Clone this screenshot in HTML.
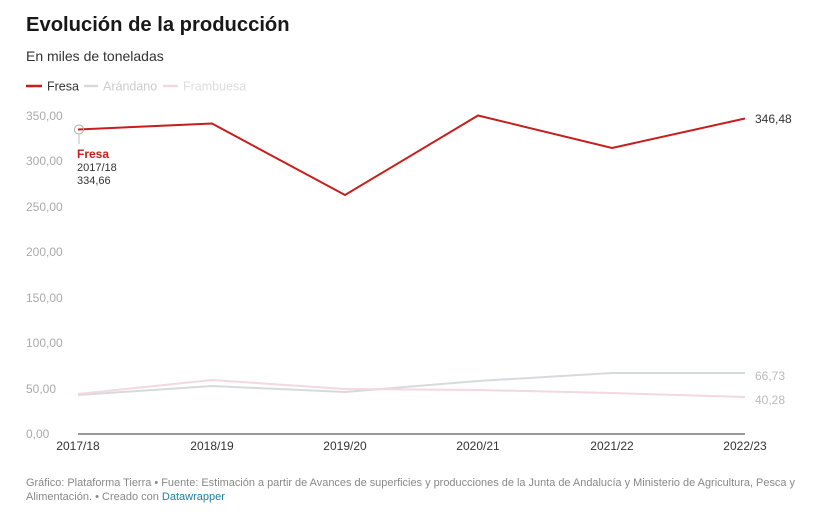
<!DOCTYPE html>
<html><head><meta charset="utf-8"><style>
body{margin:0;width:832px;height:519px;background:#fff;font-family:"Liberation Sans",Arial,sans-serif;overflow:hidden}
</style></head><body>
<svg width="832" height="519" xmlns="http://www.w3.org/2000/svg" font-family="Liberation Sans, Arial, sans-serif">
<text x="26" y="31" font-size="20.2" font-weight="bold" fill="#181818">Evolución de la producción</text>
<text x="26" y="61" font-size="14" fill="#333">En miles de toneladas</text>
<line x1="26" y1="86" x2="42" y2="86" stroke="#c71e1d" stroke-width="2.5"/>
<text x="47" y="90.5" font-size="12.5" fill="#333">Fresa</text>
<line x1="84" y1="86" x2="98" y2="86" stroke="#d7dadd" stroke-width="2.5"/>
<text x="103" y="90.5" font-size="12.5" fill="#ccc">Arándano</text>
<line x1="163" y1="86" x2="178" y2="86" stroke="#f4d8e0" stroke-width="2.5"/>
<text x="183" y="90.5" font-size="12.5" fill="#ddd">Frambuesa</text>
<g font-size="12" fill="#aaa">
<text x="26" y="120">350,00</text><text x="26" y="165">300,00</text><text x="26" y="211">250,00</text>
<text x="26" y="256">200,00</text><text x="26" y="302">150,00</text><text x="26" y="347">100,00</text>
<text x="26" y="393">50,00</text><text x="26" y="438">0,00</text>
</g>
<line x1="78" y1="434" x2="745" y2="434" stroke="#333" stroke-width="1"/>
<g font-size="12" fill="#333" text-anchor="middle">
<text x="78" y="450">2017/18</text><text x="212" y="450">2018/19</text><text x="345" y="450">2019/20</text>
<text x="478" y="450">2020/21</text><text x="612" y="450">2021/22</text><text x="745" y="450">2022/23</text>
</g>
<polyline fill="none" stroke="#d7dadd" stroke-width="2" points="78,395 212,386 345,392 478,381 612,373 745,373"/>
<polyline fill="none" stroke="#f4d8e0" stroke-width="2" points="78,394 212,380 345,389 478,390 612,393 745,397"/>
<polyline fill="none" stroke="#c71e1d" stroke-width="2" points="78,129.5 212,123.5 345,195 478,115.5 612,148 745,118.5"/>
<circle cx="79" cy="129.5" r="4.5" fill="none" stroke="#aaa" stroke-width="1"/>
<line x1="79" y1="134" x2="79" y2="144" stroke="#bbb"/>
<text x="77" y="158" font-size="12" font-weight="bold" fill="#c71e1d">Fresa</text>
<text x="77" y="171" font-size="11" fill="#333">2017/18</text>
<text x="77" y="184" font-size="11" fill="#333">334,66</text>
<text x="755" y="123" font-size="12" fill="#333">346,48</text>
<text x="755" y="380" font-size="12" fill="#bbb">66,73</text>
<text x="755" y="404" font-size="12" fill="#bbb">40,28</text>
<text x="26" y="486" font-size="11" fill="#888" textLength="769" lengthAdjust="spacingAndGlyphs">Gráfico: Plataforma Tierra • Fuente: Estimación a partir de Avances de superficies y producciones de la Junta de Andalucía y Ministerio de Agricultura, Pesca y</text>
<text x="26" y="500" font-size="11" fill="#888">Alimentación. • Creado con <tspan fill="#1d81a2">Datawrapper</tspan></text>
</svg>
</body></html>
